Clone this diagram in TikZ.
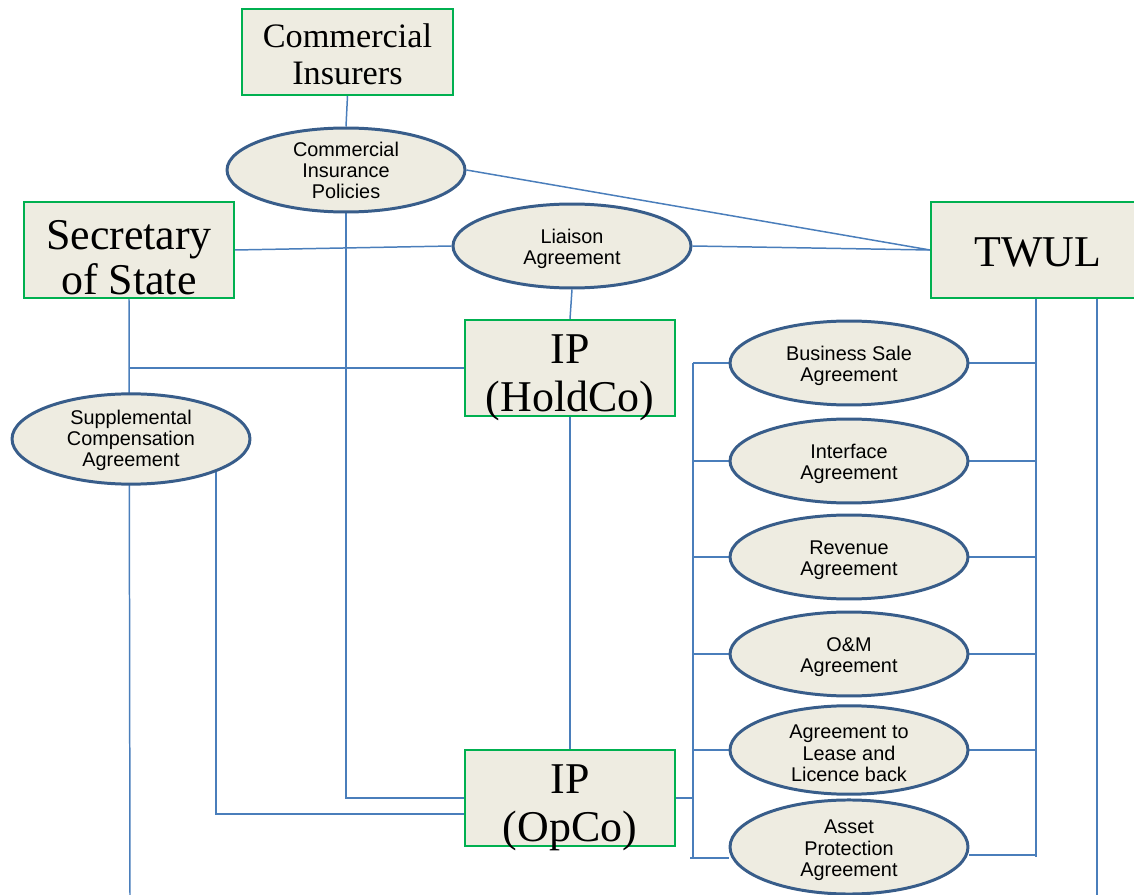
\documentclass[tikz,border=0pt]{standalone}
\usepackage{fontspec}
\setmainfont{Liberation Serif}
\newfontfamily\arialf{Liberation Sans}
\usetikzlibrary{shapes.geometric}
\pgfdeclarelayer{bg}
\pgfsetlayers{bg,main}
\definecolor{boxfill}{HTML}{EEECE1}
\definecolor{boxgreen}{HTML}{00B050}
\definecolor{ovalblue}{HTML}{385D8A}
\definecolor{linkblue}{HTML}{4A7EBB}
\newcommand\lowA[1]{\rule{0pt}{#1}}
\tikzset{
  box/.style={draw=boxgreen, line width=1.1pt, fill=boxfill, minimum width=4.2cm, minimum height=1.92cm, inner sep=0pt, align=center, font=\fontsize{25}{27}\selectfont, text height=49pt, text depth=0pt},
  oval/.style={ellipse, draw=ovalblue, line width=1.7pt, fill=boxfill, minimum width=4.76cm, minimum height=1.68cm, inner sep=0pt, align=center, font=\arialf\fontsize{11.3}{12}\selectfont},
  conn/.style={draw=linkblue, line width=0.85pt}
}
\begin{document}
\begin{tikzpicture}[x=0.02cm, y=-0.02cm]
\useasboundingbox (0,0) rectangle (1134,895);
% boxes
\node[box, minimum width=4.22cm, minimum height=1.72cm, font=\fontsize{19.5}{21}\selectfont, text height=36.7pt] (ci) at (347.5,52) {Commercial\\Insurers};
\node[box, font=\fontsize{25}{25.5}\selectfont, text height=50.5pt] (sos) at (129,250) {Secretary\\of State};
\node[box, minimum width=4.28cm, text height=19pt] (twul) at (1038,250) {TWUL};
\node[box] (holdco) at (570,368) {IP\\(HoldCo)};
\node[box] (opco) at (570,798) {IP\\(OpCo)};
% ovals
\node[oval] (cip) at (346,170) {Commercial\\Insurance\\Policies};
\node[oval] (liaison) at (572,246) {\lowA{11.5pt}Liaison\\Agreement};
\node[oval] (supp) at (131,439) {\lowA{10pt}Supplemental\\Compensation\\Agreement};
\node[oval] (bsa) at (849,363) {\lowA{11.5pt}Business Sale\\Agreement};
\node[oval] (ifa) at (849,461) {\lowA{11.5pt}Interface\\Agreement};
\node[oval] (rev) at (849,557) {\lowA{11.5pt}Revenue\\Agreement};
\node[oval] (om) at (849,654) {\lowA{11.5pt}O\&M\\Agreement};
\node[oval] (atl) at (849,750) {\lowA{11.5pt}Agreement to\\Lease and\\Licence back};
\node[oval] (apa) at (849,847) {\lowA{11.5pt}Asset\\Protection\\Agreement};
% junction coordinates
\coordinate (sosend) at (130,895);
\coordinate (sj) at (130,368);
\coordinate (lbt) at (693,363);
\coordinate (lbb) at (693,857);
\coordinate (rbt) at (1036,298);
\coordinate (rbb) at (1036,857);
\coordinate (frt) at (1097,298);
\coordinate (frb) at (1097,895);
\coordinate (apin) at ([yshift=-0.22cm]apa.west);
\coordinate (apout) at ([yshift=-0.16cm]apa.east);
\coordinate (opin) at ([yshift=-0.32cm]opco.west);
\begin{pgfonlayer}{bg}
\draw[conn] (ci.south) -- (cip.north);
\draw[conn] (cip.east) -- (twul.west);
\draw[conn] (sos.east) -- (liaison.west);
\draw[conn] (liaison.east) -- (twul.west);
\draw[conn] (liaison.south) -- (holdco.north);
\draw[conn] (holdco.south) -- (opco.north);
\draw[conn] (cip.south) |- (opco.west);
\draw[conn] (sos.south) -- (sosend);
\draw[conn] (sj) -- (holdco.west);
\draw[conn] (supp.south east) |- (opin);
\draw[conn] (lbt) -- (lbb);
\draw[conn] (opco.east) -- (opco.east -| lbt);
\foreach \n in {bsa,ifa,rev,om,atl} {
  \draw[conn] (\n.west -| lbt) -- (\n.west);
  \draw[conn] (\n.east) -- (\n.east -| rbt);
}
\draw[conn] ([xshift=-0.06cm]apin -| lbt) -- (apin);
\draw[conn] (apout) -- (apout -| rbt);
\draw[conn] (twul.south -| rbt) -- (rbb);
\draw[conn] (twul.south -| frt) -- (frb);
\end{pgfonlayer}
\end{tikzpicture}
\end{document}
